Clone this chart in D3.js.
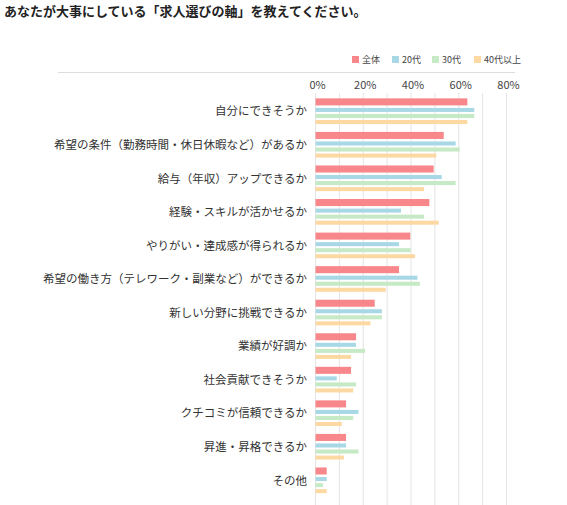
<!DOCTYPE html>
<html><head><meta charset="utf-8">
<script src="https://cdn.jsdelivr.net/npm/d3@7"></script>
<style>body{margin:0;background:#fff;font-family:"Noto Sans CJK JP",sans-serif;}</style>
</head><body><svg id="c" width="567" height="505"></svg>
<script>
var categories = ["自分にできそうか","希望の条件（勤務時間・休日休暇など）があるか","給与（年収）アップできるか","経験・スキルが活かせるか","やりがい・達成感が得られるか","希望の働き方（テレワーク・副業など）ができるか","新しい分野に挑戦できるか","業績が好調か","社会貢献できそうか","クチコミが信頼できるか","昇進・昇格できるか","その他"];
var seriesNames = ["全体","20代","30代","40代以上"];
var seriesColors = ["#f7878b","#a8d8e6","#c6e9c6","#fcd9a2"];
var all   = [63.6,53.7,49.5,47.7,39.7,35.0,24.8,17.0,14.9,12.8,12.8,4.7];
var age20 = [66.5,58.7,52.9,35.8,35.0,42.7,27.8,17.0,8.9,18.0,12.8,4.7];
var age30 = [66.5,60.4,58.7,45.5,39.9,43.7,27.8,20.8,17.0,15.8,18.0,3.1];
var age40 = [63.6,50.6,45.5,51.6,41.7,29.4,23.0,14.9,15.8,11.0,11.9,4.7];
var series = [all, age20, age30, age40];
var ticks = [0,20,40,60,80];

(function(){
  "use strict";
  var svg = d3.select("#c");
  svg.append("text").attr("x",4).attr("y",16).attr("font-size",13).attr("font-weight","bold")
     .attr("fill","#222").text("あなたが大事にしている「求人選びの軸」を教えてください。");

  var x = d3.scaleLinear().domain([0,80]).range([315.5,506.5]);
  var y = d3.scaleBand().domain(categories).range([95,497]).paddingInner(0.22).paddingOuter(0.1);

  // grid
  svg.append("g").selectAll("line").data(d3.range(0,81,10)).enter().append("line")
     .attr("x1",d=>x(d)).attr("x2",d=>x(d)).attr("y1",93).attr("y2",505)
     .attr("stroke","#e4e4e4");
  svg.append("line").attr("x1",58).attr("x2",515).attr("y1",72.5).attr("y2",72.5).attr("stroke","#ddd");

  svg.append("g").selectAll("text").data(ticks).enter().append("text")
     .attr("x",d=>x(d)+2).attr("y",89).attr("text-anchor","middle").attr("font-size",11)
     .attr("fill","#444").text(d=>d+"%");

  // legend
  var lx = [352,392,432,474];
  seriesNames.forEach(function(n,i){
    svg.append("rect").attr("x",lx[i]).attr("y",56).attr("width",7).attr("height",7).attr("fill",seriesColors[i]);
    svg.append("text").attr("x",lx[i]+10).attr("y",63).attr("font-size",9).attr("fill","#444").text(n);
  });

  // bars
  var hs = [7,4,4,4], offs = [0,9.5,15.5,21.5];
  var scale = y.bandwidth()/26;
  series.forEach(function(vals,s){
    svg.append("g").selectAll("rect").data(vals).enter().append("rect")
       .attr("x",x(0)).attr("y",(d,i)=>y(categories[i])+offs[s]*scale)
       .attr("width",d=>x(d)-x(0)).attr("height",hs[s]*scale)
       .attr("fill",seriesColors[s]);
  });

  svg.append("g").selectAll("text").data(categories).enter().append("text")
     .attr("x",307).attr("y",d=>y(d)+y.bandwidth()/2+4).attr("text-anchor","end")
     .attr("font-size",11.5).attr("fill","#333").text(d=>d);
})();
</script></body></html>
